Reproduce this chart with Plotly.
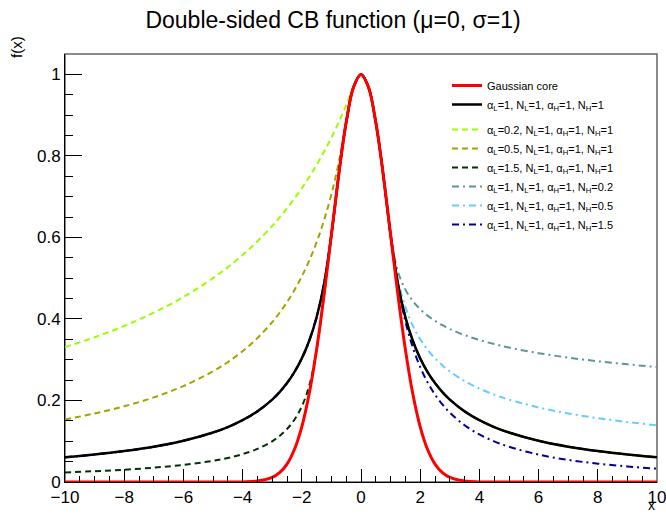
import plotly.graph_objects as go

# x sampling points (shared by all curves)
x_pos = [0.25, 0.5, 0.75, 1, 1.25, 1.5, 1.75, 2, 2.25, 2.5, 2.75, 3, 3.5, 4, 4.5, 5, 6, 7, 8, 9, 10]
x_vals = [-v for v in reversed(x_pos)] + [0] + x_pos

# Gaussian core, right half (x = 0.25 ... 10), peak value at x=0
peak = 1.0
gauss_right = [0.9692, 0.8825, 0.7548, 0.6065, 0.4578, 0.3247, 0.2163, 0.1353, 0.0796, 0.0439,
               0.0228, 0.0111, 0.0022, 0.0003, 0.0, 0.0, 0.0, 0.0, 0.0, 0.0, 0.0]

# alpha=1, N=1 tail (default, symmetric), right half
tail_default = [0.9692, 0.8825, 0.7548, 0.6065, 0.4852, 0.4043, 0.3466, 0.3033, 0.2696, 0.2426,
                0.2205, 0.2022, 0.1733, 0.1516, 0.1348, 0.1213, 0.1011, 0.0866, 0.0758, 0.0674, 0.0607]

# Left tails (x = -10 ... -0.25)
left_aL02 = [0.3311, 0.3551, 0.3829, 0.4153, 0.4538, 0.5001, 0.5270, 0.5569, 0.5905, 0.6283, 0.6491,
             0.6714, 0.6952, 0.7207, 0.7482, 0.7779, 0.8101, 0.8450, 0.8831, 0.9247, 0.9705]
left_aL05 = [0.1535, 0.1681, 0.1858, 0.2076, 0.2353, 0.2715, 0.2942, 0.3209, 0.3530, 0.3922, 0.4153,
             0.4413, 0.4707, 0.5043, 0.5431, 0.5883, 0.6418, 0.7060, 0.7844, 0.8825, 0.9692]
left_aL15 = [0.0236, 0.0265, 0.0302, 0.0351, 0.0419, 0.0520, 0.0590, 0.0684, 0.0812, 0.0999, 0.1129,
             0.1299, 0.1528, 0.1855, 0.2361, 0.3247, 0.4578, 0.6065, 0.7548, 0.8825, 0.9692]

# Right tails (x = 0.25 ... 10)
right_nH02 = [0.9692, 0.8825, 0.7548, 0.6065, 0.5157, 0.4720, 0.4441, 0.4238, 0.4081, 0.3953, 0.3846,
              0.3754, 0.3604, 0.3484, 0.3384, 0.3299, 0.3161, 0.3052, 0.2962, 0.2886, 0.2820]
right_nH05 = [0.9692, 0.8825, 0.7548, 0.6065, 0.4952, 0.4289, 0.3836, 0.3502, 0.3242, 0.3033, 0.2859,
              0.2712, 0.2476, 0.2292, 0.2144, 0.2022, 0.1829, 0.1682, 0.1566, 0.1471, 0.1391]
right_nH15 = [0.9692, 0.8825, 0.7548, 0.6065, 0.4813, 0.3939, 0.3301, 0.2819, 0.2443, 0.2144, 0.1902,
              0.1702, 0.1393, 0.1167, 0.0997, 0.0864, 0.0672, 0.0542, 0.0450, 0.0381, 0.0328]

left_default = list(reversed(tail_default))

labels = [
    "Gaussian core",
    "α<sub>L</sub>=1, N<sub>L</sub>=1, α<sub>H</sub>=1, N<sub>H</sub>=1",
    "α<sub>L</sub>=0.2, N<sub>L</sub>=1, α<sub>H</sub>=1, N<sub>H</sub>=1",
    "α<sub>L</sub>=0.5, N<sub>L</sub>=1, α<sub>H</sub>=1, N<sub>H</sub>=1",
    "α<sub>L</sub>=1.5, N<sub>L</sub>=1, α<sub>H</sub>=1, N<sub>H</sub>=1",
    "α<sub>L</sub>=1, N<sub>L</sub>=1, α<sub>H</sub>=1, N<sub>H</sub>=0.2",
    "α<sub>L</sub>=1, N<sub>L</sub>=1, α<sub>H</sub>=1, N<sub>H</sub>=0.5",
    "α<sub>L</sub>=1, N<sub>L</sub>=1, α<sub>H</sub>=1, N<sub>H</sub>=1.5",
]

curves = {
    "gauss": list(reversed(gauss_right)) + [peak] + gauss_right,
    "default": left_default + [peak] + tail_default,
    "aL02": left_aL02 + [peak] + tail_default,
    "aL05": left_aL05 + [peak] + tail_default,
    "aL15": left_aL15 + [peak] + tail_default,
    "nH02": left_default + [peak] + right_nH02,
    "nH05": left_default + [peak] + right_nH05,
    "nH15": left_default + [peak] + right_nH15,
}

DASH = "6px,4px"
DASHDOT = "7px,4px,2px,4px"
variants = [
    ("aL02", labels[2], "#99ff00", DASH, 3),
    ("aL05", labels[3], "#a3a300", DASH, 4),
    ("aL15", labels[4], "#003300", DASH, 5),
    ("nH02", labels[5], "#5f9595", DASHDOT, 6),
    ("nH05", labels[6], "#66ccff", DASHDOT, 7),
    ("nH15", labels[7], "#000099", DASHDOT, 8),
]

fig = go.Figure()
for key, name, color, dash, rank in variants:
    fig.add_trace(go.Scatter(x=x_vals, y=curves[key], mode="lines", name=name,
                             line=dict(color=color, width=2, dash=dash, shape="spline"),
                             legendgroup="b", legendrank=rank))
fig.add_trace(go.Scatter(x=x_vals, y=curves["default"], mode="lines", name=labels[1],
                         line=dict(color="black", width=2.5, shape="spline"),
                         legendgroup="a", legendrank=2))
fig.add_trace(go.Scatter(x=x_vals, y=curves["gauss"], mode="lines", name=labels[0],
                         line=dict(color="#ff0000", width=3, shape="spline"),
                         legendgroup="a", legendrank=1))

font = "Liberation Sans, Arial, Helvetica, sans-serif"
fig.update_layout(
    width=666, height=515,
    margin=dict(l=65, r=9, t=54, b=33, autoexpand=False),
    paper_bgcolor="white", plot_bgcolor="white",
    font=dict(family=font, color="black"),
    title=dict(text="Double-sided CB function (μ=0, σ=1)", x=0.5, xanchor="center",
               y=1 - 20 / 515, yanchor="middle", font=dict(size=23, family=font)),
    showlegend=True,
    legend=dict(x=(447 - 65) / 592, y=(482 - 71) / 428, xanchor="left", yanchor="top",
                bgcolor="rgba(255,255,255,0)", borderwidth=0, font=dict(size=11, family=font),
                traceorder="grouped", tracegroupgap=6, itemwidth=30),
    xaxis=dict(range=[-10, 10], dtick=2, tick0=-10, ticks="inside", ticklen=13, tickwidth=1,
               tickcolor="black", showline=True, linecolor="black", linewidth=1, mirror=False,
               showgrid=False, zeroline=False, tickfont=dict(size=17, family=font),
               ticklabeloverflow="allow", automargin=False,
               minor=dict(dtick=0.5, ticks="inside", ticklen=6, tickcolor="black", showgrid=False)),
    yaxis=dict(range=[0, 1.05], dtick=0.2, tick0=0, ticks="inside", ticklen=17, tickwidth=1,
               tickcolor="black", showline=True, linecolor="black", linewidth=1, mirror=False,
               showgrid=False, zeroline=False, tickfont=dict(size=17, family=font),
               tickformat="~g", automargin=False,
               minor=dict(dtick=0.05, ticks="inside", ticklen=8, tickcolor="black", showgrid=False)),
    shapes=[dict(type="rect", xref="paper", yref="paper", x0=0, y0=0, x1=1, y1=1,
                 line=dict(color="#666666", width=1.5), layer="below")],
    annotations=[
        dict(text="f(x)", xref="paper", yref="paper", x=(16 - 65) / 592, y=(482 - 34) / 428,
             xanchor="center", yanchor="top", textangle=-90, showarrow=False,
             font=dict(size=15, family=font)),
        dict(text="x", xref="paper", yref="paper", x=(651 - 65) / 592, y=(482 - 514) / 428,
             xanchor="center", yanchor="bottom", showarrow=False, borderpad=0,
             font=dict(size=14, family=font)),
    ],
)

fig.write_html("out.html")
